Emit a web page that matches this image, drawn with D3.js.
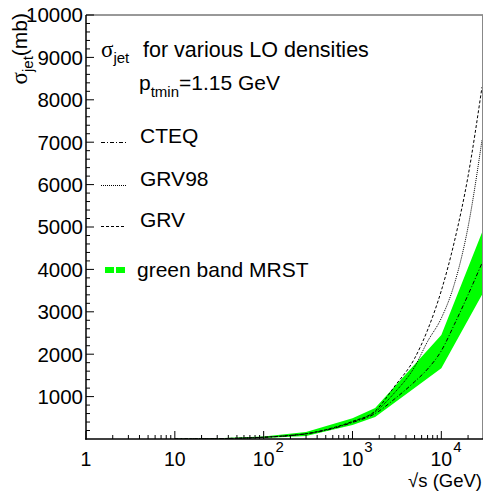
<!DOCTYPE html>
<html>
<head>
<meta charset="utf-8">
<script src="https://cdn.jsdelivr.net/npm/d3@7"></script>
<style>
  html, body { margin: 0; padding: 0; background: #fff; }
  svg { display: block; }
  text { font-family: "Liberation Sans", Arial, Helvetica, sans-serif; fill: #000; }
</style>
</head>
<body>
<svg id="chart" width="483" height="491"></svg>
<script>
// ---- data ----
const sqrtS = [10, 20, 50, 100, 200, 300, 500, 1000, 1800, 3000, 5000, 7000, 10000, 14000, 20000, 28700];
const grv   = [1, 4, 18, 42, 85, 125, 220, 415, 660, 1250, 1900, 2570, 3500, 4650, 6200, 8300];
const grv98 = [1, 4, 18, 42, 85, 125, 215, 405, 640, 1100, 1700, 2300, 2850, 3650, 5000, 7050];
const cteq  = [1, 4, 17, 40, 80, 120, 205, 390, 600, 950, 1350, 1650, 2080, 2700, 3400, 4150];

const bandS  = [10, 30, 100, 300, 1000, 1800, 10000, 28700];
const bandLo = [0, 5, 25, 70, 330, 520, 1670, 3400];
const bandHi = [3, 20, 60, 165, 490, 730, 2450, 4870];

const yTicks = [1000, 2000, 3000, 4000, 5000, 6000, 7000, 8000, 9000, 10000];
const xDecades = [1, 10, 100, 1000, 10000];
const xTickLabels = [["1", ""], ["10", ""], ["10", "2"], ["10", "3"], ["10", "4"]];

const legendItems = [
  {label: "CTEQ",  dash: "4,2,1,2", y: 143},
  {label: "GRV98", dash: "1,1",     y: 186},
  {label: "GRV",   dash: "3,2",     y: 227}
];

// ---- layout ----
const L = 86, R = 482, T = 15, B = 439;
const svg = d3.select("#chart");
const x = d3.scaleLog().domain([1, 28700]).range([L, R]);
const y = d3.scaleLinear().domain([0, 10000]).range([B, T]);

svg.append("defs").append("clipPath").attr("id", "clip")
  .append("rect").attr("x", L).attr("y", T).attr("width", R - L).attr("height", B - T);

const plot = svg.append("g").attr("clip-path", "url(#clip)");

// band
const bandData = bandS.map((s, i) => ({s, lo: bandLo[i], hi: bandHi[i]}));
plot.append("path")
  .datum(bandData)
  .attr("fill", "#00ff00")
  .attr("d", d3.area().x(d => x(d.s)).y0(d => y(d.lo)).y1(d => y(d.hi)));

// lines
const line = d3.line().x(d => x(d.s)).y(d => y(d.v)).curve(d3.curveMonotoneX);
const series = [
  {vals: grv, dash: "3,2"},
  {vals: grv98, dash: "1,1"},
  {vals: cteq, dash: "4,2,1,2"}
];
series.forEach(sr => {
  plot.append("path")
    .datum(sqrtS.map((s, i) => ({s, v: sr.vals[i]})))
    .attr("fill", "none")
    .attr("stroke", "#000")
    .attr("stroke-width", 1)
    .attr("stroke-dasharray", sr.dash)
    .attr("d", line);
});

// frame
svg.append("line").attr("x1", L).attr("x2", R + 1).attr("y1", T).attr("y2", T)
  .attr("stroke", "#333").attr("stroke-width", 1);
svg.append("line").attr("x1", R + 0.5).attr("x2", R + 0.5).attr("y1", T).attr("y2", B)
  .attr("stroke", "#888").attr("stroke-width", 1);

// y axis
const yMinor = d3.range(200, 10000, 200).filter(v => v % 1000 !== 0);
const yAxis = svg.append("g");
yAxis.selectAll("line.minor").data(yMinor).enter().append("line")
  .attr("x1", L).attr("x2", L + 4).attr("y1", d => y(d)).attr("y2", d => y(d))
  .attr("stroke", "#000").attr("stroke-width", 1);
yAxis.selectAll("line.major").data(yTicks).enter().append("line")
  .attr("x1", L).attr("x2", L + 8).attr("y1", d => y(d)).attr("y2", d => y(d))
  .attr("stroke", "#000").attr("stroke-width", 1);
yAxis.selectAll("text").data(yTicks).enter().append("text")
  .attr("x", L - 3).attr("y", d => y(d)).attr("dy", "0.36em")
  .attr("text-anchor", "end").attr("font-size", 20.5)
  .text(d => d);
svg.append("line").attr("x1", L).attr("x2", L).attr("y1", T).attr("y2", B + 0.75)
  .attr("stroke", "#000").attr("stroke-width", 1.5);

// x axis
const xMinor = [];
[1, 10, 100, 1000, 10000].forEach(dec => {
  for (let k = 2; k <= 9; k++) { if (dec * k <= 28700) xMinor.push(dec * k); }
});
const xAxis = svg.append("g");
xAxis.selectAll("line.minor").data(xMinor).enter().append("line")
  .attr("x1", d => x(d)).attr("x2", d => x(d)).attr("y1", B).attr("y2", B - 4)
  .attr("stroke", "#000").attr("stroke-width", 1);
xAxis.selectAll("line.major").data(xDecades).enter().append("line")
  .attr("x1", d => x(d)).attr("x2", d => x(d)).attr("y1", B).attr("y2", B - 8)
  .attr("stroke", "#000").attr("stroke-width", 1);
svg.append("line").attr("x1", L - 0.75).attr("x2", R + 1).attr("y1", B).attr("y2", B)
  .attr("stroke", "#000").attr("stroke-width", 1.5);

xDecades.forEach((d, i) => {
  const [base, sup] = xTickLabels[i];
  const t = svg.append("text")
    .attr("x", x(d)).attr("y", 465.8)
    .attr("text-anchor", "middle").attr("font-size", 19.5)
    .text(base);
  if (sup) {
    const w = t.node().getComputedTextLength();
    svg.append("text")
      .attr("x", x(d) + w / 2 + 1).attr("y", 452)
      .attr("font-size", 15)
      .text(sup);
  }
});

// x title
svg.append("text").attr("x", R).attr("y", 486.8)
  .attr("text-anchor", "end").attr("font-size", 18.5)
  .text("\u221As (GeV)");

// y title
const yt = svg.append("text")
  .attr("transform", `translate(27,13) rotate(-90)`)
  .attr("text-anchor", "end").attr("font-size", 21);
yt.append("tspan").attr("font-family", "Liberation Serif, serif").attr("font-size", 23).text("\u03C3");
yt.append("tspan").attr("font-size", 15).attr("dy", 6).text("jet");
yt.append("tspan").attr("dy", -6).text("(mb)");

// legend header
const h1 = svg.append("text").attr("x", 101).attr("y", 57).attr("font-size", 21);
h1.append("tspan").attr("font-family", "Liberation Serif, serif").attr("font-size", 23).text("\u03C3");
h1.append("tspan").attr("font-size", 15).attr("dy", 6).text("jet");
svg.append("text").attr("x", 143).attr("y", 57).attr("font-size", 21.5)
  .text("for various LO densities");

const h2 = svg.append("text").attr("x", 139).attr("y", 90).attr("font-size", 21);
h2.append("tspan").text("p");
h2.append("tspan").attr("font-size", 15).attr("dy", 7).text("tmin");
h2.append("tspan").attr("dy", -7).text("=1.15 GeV");

legendItems.forEach(it => {
  svg.append("line").attr("x1", 101).attr("x2", 126).attr("y1", it.y - 0.5).attr("y2", it.y - 0.5)
    .attr("stroke", "#000").attr("stroke-width", 1).attr("stroke-dasharray", it.dash);
  svg.append("text").attr("x", 140).attr("y", it.y).attr("font-size", 21).text(it.label);
});
svg.append("line").attr("x1", 105).attr("x2", 125).attr("y1", 270).attr("y2", 270)
  .attr("stroke", "#00ff00").attr("stroke-width", 6).attr("stroke-dasharray", "9,2");
svg.append("text").attr("x", 137).attr("y", 277).attr("font-size", 21).text("green band MRST");
</script>
</body>
</html>
